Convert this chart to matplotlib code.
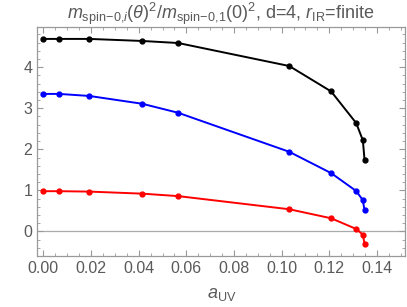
import numpy as np
import matplotlib
matplotlib.use("Agg")
import matplotlib.pyplot as plt
from matplotlib.ticker import MultipleLocator

plt.rcParams['font.family'] = 'Liberation Sans'
plt.rcParams['mathtext.fontset'] = 'custom'
plt.rcParams['mathtext.rm'] = 'Liberation Sans'
plt.rcParams['mathtext.it'] = 'Liberation Sans:italic'

# data
a_uv = [0.0, 0.0066, 0.0193, 0.0415, 0.0566, 0.1032, 0.1208, 0.1313, 0.1341, 0.1348]
mode3 = [4.69, 4.69, 4.69, 4.64, 4.59, 4.03, 3.41, 2.64, 2.22, 1.75]
mode2 = [3.35, 3.35, 3.30, 3.11, 2.89, 1.94, 1.42, 0.985, 0.76, 0.51]
mode1 = [0.98, 0.98, 0.97, 0.92, 0.86, 0.54, 0.32, 0.06, -0.08, -0.30]

grey = '#5a5a5a'

fig = plt.figure(figsize=(4.07, 3.07), dpi=100)
ax = fig.add_axes([0.0909, 0.166, 0.9054, 0.746])

ax.axhline(0, color='#aaaaaa', lw=0.9, zorder=1)
for ys, c in [(mode3, 'black'), (mode2, '#0000ff'), (mode1, '#ff0000')]:
    ax.plot(a_uv, ys, color=c, lw=1.4, marker='o', markersize=3.5, zorder=3)

ax.set_xlim(-0.0027, 0.152)
ax.set_ylim(-0.6, 4.98)
ax.xaxis.set_major_locator(MultipleLocator(0.02))
ax.xaxis.set_minor_locator(MultipleLocator(0.005))
ax.yaxis.set_major_locator(MultipleLocator(1))
ax.yaxis.set_minor_locator(MultipleLocator(0.2))
ax.xaxis.set_major_formatter(plt.FuncFormatter(lambda v, p: '%.2f' % v))

ax.tick_params(which='both', direction='in', top=True, right=True, colors='#999999',
               labelcolor=grey, labelsize=11.5)
ax.tick_params(which='major', length=4, width=0.8)
ax.tick_params(which='minor', length=2.2, width=0.6)
for s in ax.spines.values():
    s.set_color('#999999')
    s.set_linewidth(0.9)

ax.set_title(r'$m_{\mathrm{spin\!-\!0}{,}i}(\theta)^2/m_{\mathrm{spin\!-\!0}{,}1}(0)^2$, d=4, $r_{\mathrm{IR}}$=finite',
             color=grey, fontsize=13, pad=5)
ax.set_xlabel(r'$a_{\mathrm{UV}}$', color=grey, fontsize=13, labelpad=7)

fig.savefig('out.png', dpi=100)
